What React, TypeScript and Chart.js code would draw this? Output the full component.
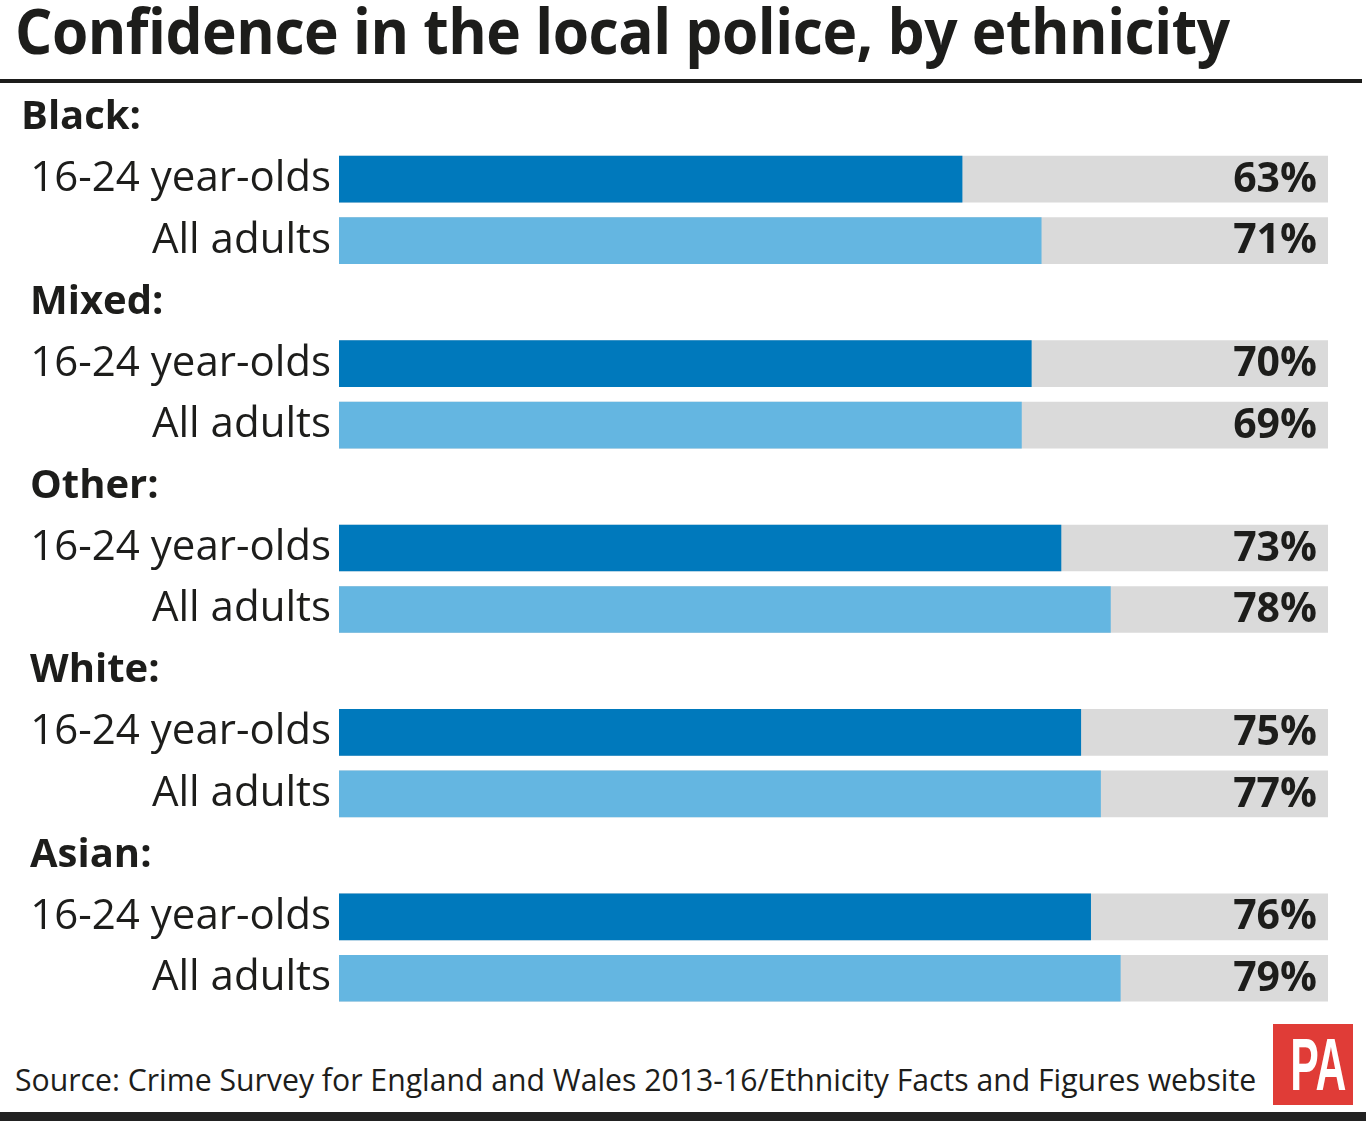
import React, { useEffect, useRef } from 'react';
import { Chart, registerables } from 'chart.js';

Chart.register(...registerables);

const titleText = 'Confidence in the local police, by ethnicity';
const sourceText = 'Source: Crime Survey for England and Wales 2013-16/Ethnicity Facts and Figures website';
const groups = ['Black:', 'Mixed:', 'Other:', 'White:', 'Asian:'];
const seriesNames = ['16-24 year-olds', 'All adults'];
const youngValues = [63, 70, 73, 75, 76];
const adultValues = [71, 69, 78, 77, 79];
const scaleMax = 100;

const DARK = '#0079BC';
const LIGHT = '#64B6E1';
const TRACK = '#DADADA';
const INK = '#1d1d1b';
const FONT = "'Open Sans', 'Noto Sans', sans-serif";

// Build the category rows: a group header row followed by one row for each series
const rowLabels: string[] = [];
const youngData: (number | null)[] = [];
const adultData: (number | null)[] = [];
const trackData: (number | null)[] = [];
const groupRow: boolean[] = [];
groups.forEach((g, i) => {
  rowLabels.push(g); youngData.push(null); adultData.push(null); trackData.push(null); groupRow.push(true);
  rowLabels.push(seriesNames[0]); youngData.push(youngValues[i]); adultData.push(null); trackData.push(scaleMax); groupRow.push(false);
  rowLabels.push(seriesNames[1]); youngData.push(null); adultData.push(adultValues[i]); trackData.push(scaleMax); groupRow.push(false);
});

const labelPlugin = {
  id: 'labelPlugin',
  afterDatasetsDraw(chart: any) {
    const ctx = chart.ctx;
    const area = chart.chartArea;
    const yScale = chart.scales.y;
    ctx.save();
    ctx.fillStyle = INK;
    ctx.textBaseline = 'middle';
    // value labels
    ctx.font = `700 41px ${FONT}`;
    ctx.textAlign = 'right';
    [0, 1].forEach((di) => {
      const meta = chart.getDatasetMeta(di);
      const data = chart.data.datasets[di].data;
      meta.data.forEach((el: any, i: number) => {
        const v = data[i];
        if (v === null || v === undefined) return;
        ctx.fillText(`${v}%`, area.right - 11, el.y + 1);
      });
    });
    // group headers
    ctx.font = `700 40px ${FONT}`;
    ctx.textAlign = 'left';
    rowLabels.forEach((lab, i) => {
      if (!groupRow[i]) return;
      const y = yScale.getPixelForValue(i);
      ctx.fillText(lab, i === 0 ? 21 : 30, y);
    });
    ctx.restore();
  },
};

export default function App() {
  const canvasRef = useRef<HTMLCanvasElement | null>(null);

  useEffect(() => {
    if (!canvasRef.current) return;
    const chart = new Chart(canvasRef.current, {
      type: 'bar',
      data: {
        labels: rowLabels,
        datasets: [
          { label: seriesNames[0], data: youngData, backgroundColor: DARK, grouped: false, order: 0, barThickness: 46 },
          { label: seriesNames[1], data: adultData, backgroundColor: LIGHT, grouped: false, order: 0, barThickness: 46 },
          { label: 'track', data: trackData, backgroundColor: TRACK, grouped: false, order: 5, barThickness: 46 },
        ] as any,
      },
      options: {
        indexAxis: 'y',
        animation: false,
        responsive: false,
        maintainAspectRatio: false,
        layout: { padding: { left: 0, right: 38, top: 0, bottom: 0 } },
        plugins: {
          legend: { display: false },
          tooltip: { enabled: false },
          title: { display: false },
        },
        scales: {
          x: { display: false, min: 0, max: scaleMax },
          y: {
            grid: { display: false, drawTicks: false },
            border: { display: false },
            afterFit: (s: any) => { s.width = 339; s.paddingTop = 0; s.paddingBottom = 0; },
            ticks: {
              padding: 8,
              color: INK,
              font: { family: FONT, size: 42, weight: 400 } as any,
              callback: (_v: any, i: number) => (groupRow[i] ? '' : rowLabels[i]),
              autoSkip: false,
            },
          },
        },
      },
      plugins: [labelPlugin],
    });
    return () => chart.destroy();
  }, []);

  return (
    <div style={{ position: 'absolute', left: 0, top: 0, width: 1366, height: 1121, background: '#fff', overflow: 'hidden', fontFamily: FONT, color: INK }}>
      <div style={{ position: 'absolute', left: 15, top: -12, fontSize: 62, fontWeight: 700, whiteSpace: 'nowrap', letterSpacing: -0.5, transform: 'scaleX(0.946)', transformOrigin: '0 0' }}>{titleText}</div>
      <div style={{ position: 'absolute', left: 0, top: 79, width: 1362, height: 4, background: INK }} />
      <canvas ref={canvasRef} width={1366} height={922} style={{ position: 'absolute', left: 0, top: 87, width: 1366, height: 922 }} />
      <div style={{ position: 'absolute', left: 15, top: 1059, fontSize: 30.2, fontWeight: 400, whiteSpace: 'nowrap' }}>{sourceText}</div>
      <div style={{ position: 'absolute', left: 1273, top: 1024, width: 80, height: 81, background: '#E03C37', overflow: 'hidden' }}>
        <div style={{ position: 'absolute', left: 0, top: 3, width: 80, textAlign: 'center', color: '#fff', fontFamily: "'Liberation Sans', Arial, sans-serif", fontWeight: 700, fontSize: 75, lineHeight: '75px', transform: 'scaleX(0.57)', transformOrigin: '50% 0' }}>PA</div>
      </div>
      <div style={{ position: 'absolute', left: 0, top: 1112, width: 1366, height: 9, background: '#222' }} />
    </div>
  );
}
